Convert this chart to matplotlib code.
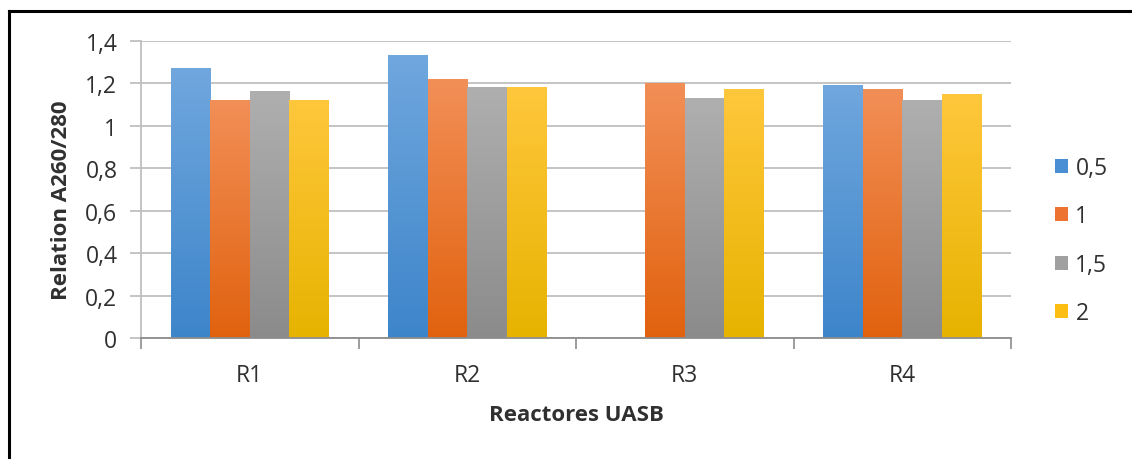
import matplotlib
matplotlib.use("Agg")
import matplotlib.pyplot as plt
import numpy as np
from matplotlib.colors import LinearSegmentedColormap
from matplotlib.patches import Patch
from matplotlib.lines import Line2D

categories = ["R1", "R2", "R3", "R4"]
series_labels = ["0,5", "1", "1,5", "2"]
s05 = [1.27, 1.33, 0.0, 1.19]
s1 = [1.12, 1.22, 1.20, 1.17]
s15 = [1.16, 1.18, 1.13, 1.12]
s2 = [1.12, 1.18, 1.17, 1.15]
series = [s05, s1, s15, s2]
y_ticks = [0, 0.2, 0.4, 0.6, 0.8, 1.0, 1.2, 1.4]
y_tick_labels = ["0", "0,2", "0,4", "0,6", "0,8", "1", "1,2", "1,4"]

grad_colors = [("#70A7DE", "#3D85CA"), ("#F28F57", "#E1620E"),
               ("#AFAFAF", "#8B8B8B"), ("#FFC73C", "#E7B300")]
solid_colors = ["#4A8FD3", "#EC7430", "#A0A0A0", "#FDBE14"]

plt.rcParams['font.family'] = ['Open Sans', 'DejaVu Sans']
FS = 16.5
FL = 16
TXT = "#303030"

fig = plt.figure(figsize=(11.32, 4.6), dpi=100)
ax = fig.add_axes([141/1132, 1 - 339/460, (1011-141)/1132, (339-42)/460])

n = len(series)
w = 1.0 / (n + 1.5)
x = np.arange(len(categories))
grad = np.linspace(1, 0, 256).reshape(-1, 1)
for i, vals in enumerate(series):
    offs = x + (i - (n - 1) / 2) * w
    bars = ax.bar(offs, vals, width=w, color="none", edgecolor="none", zorder=2)
    cmap = LinearSegmentedColormap.from_list("g%d" % i, [grad_colors[i][1], grad_colors[i][0]])
    for b in bars:
        h = b.get_height()
        if h <= 0:
            continue
        x0 = b.get_x()
        ax.imshow(grad, extent=[x0, x0 + b.get_width(), 0, h], aspect='auto',
                  cmap=cmap, vmin=0, vmax=1, zorder=2, interpolation='bilinear')

ax.set_xlim(-0.5, len(categories) - 0.5)
ax.set_ylim(0, 1.4)
ax.set_yticks(y_ticks)
ax.set_yticklabels(y_tick_labels, fontsize=FS, color=TXT)
ax.yaxis.grid(True, color="#BFBFBF", linewidth=1.3, zorder=0)
ax.set_axisbelow(True)

ax.set_xticks(np.arange(len(categories) + 1) - 0.5)
ax.set_xticklabels([])
ax.set_xticks(x, minor=True)
ax.set_xticklabels(categories, minor=True, fontsize=FS, color=TXT)
ax.tick_params(axis='x', which='major', length=8, color="#8C8C8C", width=1.2)
ax.tick_params(axis='x', which='minor', length=0, pad=18)
ax.tick_params(axis='y', length=8, color="#BFBFBF", width=1.3, pad=9)

for s in ["top", "right"]:
    ax.spines[s].set_visible(False)
ax.spines["left"].set_color("#BFBFBF")
ax.spines["left"].set_linewidth(1.3)
ax.spines["bottom"].set_color("#8C8C8C")
ax.spines["bottom"].set_linewidth(1.3)

ax.set_xlabel("Reactores UASB", fontsize=FL, fontweight="bold", color=TXT, labelpad=12)
ax.set_ylabel("Relation A260/280", fontsize=FL, fontweight="bold", color=TXT)
ax.yaxis.set_label_coords(-0.079, 0.468)

handles = [Patch(facecolor=c, edgecolor="none") for c in solid_colors]
leg = fig.legend(handles, series_labels, loc="center left",
                 bbox_to_anchor=(1055/1132, 1 - 241.5/460), frameon=False,
                 fontsize=FS, handlelength=0.57, handleheight=0.57,
                 handletextpad=0.32, labelspacing=1.07, borderpad=0, borderaxespad=0)
for t in leg.get_texts():
    t.set_color(TXT)

fig.add_artist(Line2D([9/1132, 1.0], [1 - 12/460, 1 - 12/460], color="black", linewidth=2.2))
fig.add_artist(Line2D([9/1132, 9/1132], [0, 1 - 12/460], color="black", linewidth=2.2))

fig.savefig("out.png", dpi=100)
